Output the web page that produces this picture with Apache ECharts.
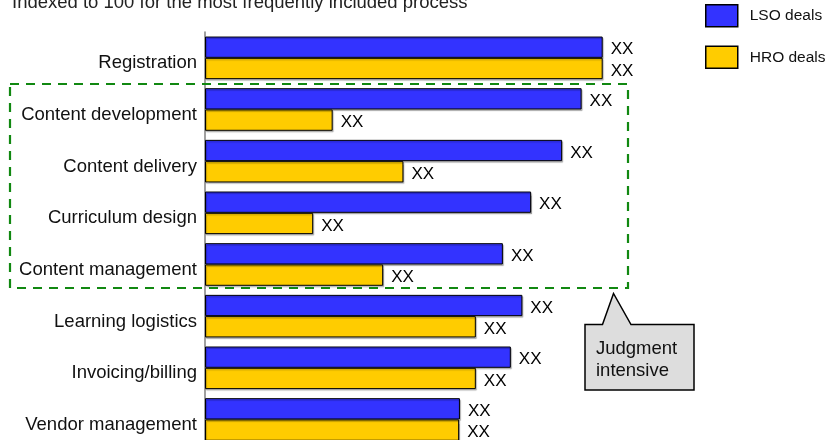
<!DOCTYPE html>
<html>
<head>
<meta charset="utf-8">
<script src="https://cdn.jsdelivr.net/npm/echarts@6/dist/echarts.min.js"></script>
<style>html,body{margin:0;padding:0;background:#fff}#c{width:829px;height:440px}</style>
</head>
<body>
<div id="c"></div>
<script>
const categories = ['Registration','Content development','Content delivery','Curriculum design','Content management','Learning logistics','Invoicing/billing','Vendor management'];
const lsoValues = [100, 94.7, 89.8, 82.0, 74.9, 79.8, 76.9, 64.1];
const hroValues = [100, 32.1, 49.9, 27.2, 44.8, 68.1, 68.1, 63.9];
const seriesNames = ['LSO deals', 'HRO deals'];
const valueLabel = 'XX';
const titleText = 'Indexed to 100 for the most frequently included process';
const calloutText = 'Judgment\nintensive';

const FONT = "'Liberation Sans', Arial, sans-serif";
const chart = echarts.init(document.getElementById('c'), null, {renderer: 'canvas'});

const barStyle = (color) => ({
  color: color,
  borderColor: '#000',
  borderWidth: 1,
  shadowColor: 'rgba(0,0,0,0.25)',
  shadowOffsetX: 1,
  shadowOffsetY: 1.5,
  shadowBlur: 1
});
const labelStyle = {
  show: true,
  position: 'right',
  distance: 8,
  offset: [0, 2.5],
  formatter: valueLabel,
  fontFamily: FONT,
  fontSize: 17,
  color: '#000'
};

chart.setOption({
  animation: false,
  backgroundColor: '#fff',
  textStyle: {fontFamily: FONT},
  grid: {left: 205, top: 32, width: 397.7, height: 413.3, containLabel: false, outerBoundsMode: 'none'},
  xAxis: {
    type: 'value', min: 0, max: 100, show: false
  },
  yAxis: {
    type: 'category',
    data: categories,
    inverse: true,
    axisLine: {show: true, lineStyle: {color: '#808080', width: 1.5}},
    axisTick: {show: false},
    axisLabel: {fontFamily: FONT, fontSize: 18.5, color: '#111', margin: 8, verticalAlign: 'top', lineHeight: 11},
    splitLine: {show: false}
  },
  legend: {
    orient: 'vertical',
    left: 705, top: 4, padding: 0,
    itemWidth: 32, itemHeight: 22, itemGap: 18,
    icon: 'rect',
    data: seriesNames,
    itemStyle: {borderColor: '#000', borderWidth: 1.5},
    textStyle: {fontFamily: FONT, fontSize: 15.5, color: '#111', padding: [3, 0, 0, 7]}
  },
  series: [
    {name: seriesNames[0], type: 'bar', data: lsoValues, barWidth: 21.3, barGap: '0%',
     itemStyle: barStyle('#3333FF'), label: labelStyle},
    {name: seriesNames[1], type: 'bar', data: hroValues, barWidth: 21.3, barGap: '0%',
     itemStyle: barStyle('#FFCC00'), label: labelStyle}
  ],
  graphic: [
    {type: 'text', left: 12, top: -7, z: 10,
     style: {text: titleText, font: '18.5px ' + FONT, fill: '#222'}},
    {type: 'rect', z: 20, silent: true,
     shape: {x: 10, y: 84, width: 618, height: 204},
     style: {fill: 'none', stroke: '#118811', lineWidth: 2.2, lineDash: [9, 7]}},
    {type: 'polygon', z: 21,
     shape: {points: [[585,324.5],[602.5,324.5],[613.5,293.5],[631,324.5],[694,324.5],[694,390],[585,390]]},
     style: {fill: '#DDDDDD', stroke: '#000', lineWidth: 1.5}},
    {type: 'text', z: 22, x: 596, y: 337.6,
     style: {text: calloutText, font: '18.5px ' + FONT, fill: '#111', lineHeight: 22, verticalAlign: 'top'}}
  ]
});
</script>
</body>
</html>
